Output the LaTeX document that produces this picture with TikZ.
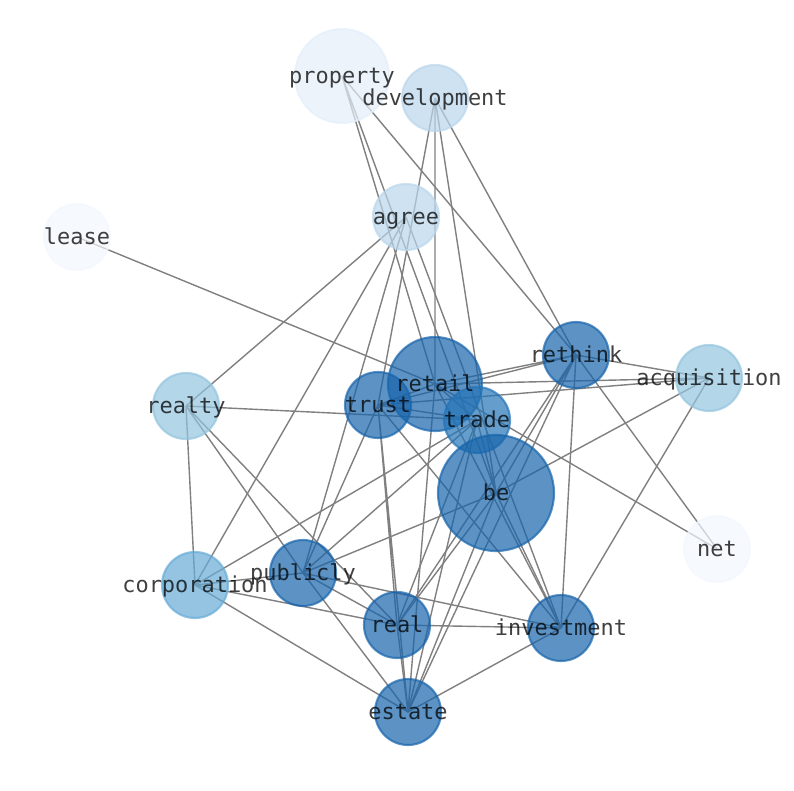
\documentclass[tikz,border=0pt]{standalone}
\usepackage{fontspec}
\setmonofont{DejaVu Sans Mono}

\definecolor{bluedeep}{HTML}{1764AB}
\definecolor{bluemid}{HTML}{2474B7}
\definecolor{bluesky}{HTML}{66ABD6}
\definecolor{bluepale}{HTML}{93C4DE}
\definecolor{bluemist}{HTML}{BAD6EB}
\definecolor{bluefog}{HTML}{E4EEF9}
\definecolor{bluesnow}{HTML}{F2F7FE}

\begin{document}
\begin{tikzpicture}[x=0.025cm,y=-0.025cm,
  link/.style={draw=gray,line width=1pt},
  bubble/.style={circle,inner sep=0pt,minimum size=1.65cm,line width=1.5pt,
    fill opacity=0.7,draw opacity=0.7},
  word/.style={font=\ttfamily\fontsize{15.6}{18}\selectfont,text=black,text opacity=0.75,
    inner sep=0pt,text height=0.74em,text depth=0.22em,yshift=-0.1cm}]
  \useasboundingbox (0,0) rectangle (794,790);

  % word positions
  \coordinate (property) at (342,76);
  \coordinate (development) at (435,98);
  \coordinate (agree) at (406,217);
  \coordinate (lease) at (77,237);
  \coordinate (rethink) at (576,355);
  \coordinate (retail) at (435,384);
  \coordinate (acquisition) at (709,378);
  \coordinate (realty) at (186,406);
  \coordinate (trust) at (378,405);
  \coordinate (trade) at (477,420);
  \coordinate (be) at (496,493);
  \coordinate (net) at (717,549);
  \coordinate (corporation) at (195,585);
  \coordinate (publicly) at (303,573);
  \coordinate (real) at (397,625);
  \coordinate (investment) at (561,628);
  \coordinate (estate) at (408,712);

  % co-occurrence links
  \draw[link] (property) -- (retail) (property) -- (be) (property) -- (rethink);
  \draw[link] (development) -- (trust) (development) -- (retail) (development) -- (be) (development) -- (rethink);
  \draw[link] (agree) -- (realty) (agree) -- (corporation) (agree) -- (publicly) (agree) -- (investment);
  \draw[link] (lease) -- (retail);
  \draw[link] (rethink) -- (retail) (rethink) -- (trust) (rethink) -- (acquisition) (rethink) -- (net)
    (rethink) -- (investment) (rethink) -- (be) (rethink) -- (real) (rethink) -- (estate);
  \draw[link] (acquisition) -- (retail) (acquisition) -- (trust) (acquisition) -- (be) (acquisition) -- (investment);
  \draw[link] (realty) -- (trade) (realty) -- (corporation) (realty) -- (publicly) (realty) -- (real);
  \draw[link] (retail) -- (net) (retail) -- (trust) (retail) -- (trade) (retail) -- (investment) (retail) -- (estate);
  \draw[link] (trust) -- (trade) (trust) -- (investment) (trust) -- (publicly) (trust) -- (real) (trust) -- (estate);
  \draw[link] (trade) -- (be) (trade) -- (corporation) (trade) -- (publicly) (trade) -- (real) (trade) -- (estate);
  \draw[link] (be) -- (publicly) (be) -- (investment) (be) -- (estate) (be) -- (real);
  \draw[link] (corporation) -- (publicly) (corporation) -- (real) (corporation) -- (estate);
  \draw[link] (publicly) -- (investment) (publicly) -- (real) (publicly) -- (estate);
  \draw[link] (real) -- (investment) (real) -- (estate);
  \draw[link] (investment) -- (estate);

  % discs
  \node[bubble,minimum size=2.35cm,fill=bluefog,draw=bluefog] (property-disc) at (property) {};
  \node[bubble,fill=bluemist,draw=bluemist] (development-disc) at (development) {};
  \node[bubble,fill=bluemist,draw=bluemist] (agree-disc) at (agree) {};
  \node[bubble,fill=bluesnow,draw=bluesnow] (lease-disc) at (lease) {};
  \node[bubble,minimum size=2.35cm,fill=bluedeep,draw=bluedeep] (retail-disc) at (retail) {};
  \node[bubble,fill=bluedeep,draw=bluedeep] (rethink-disc) at (rethink) {};
  \node[bubble,fill=bluepale,draw=bluepale] (acquisition-disc) at (acquisition) {};
  \node[bubble,fill=bluepale,draw=bluepale] (realty-disc) at (realty) {};
  \node[bubble,fill=bluedeep,draw=bluedeep] (trust-disc) at (trust) {};
  \node[bubble,fill=bluemid,draw=bluemid] (trade-disc) at (trade) {};
  \node[bubble,minimum size=2.9cm,fill=bluedeep,draw=bluedeep] (be-disc) at (be) {};
  \node[bubble,fill=bluesnow,draw=bluesnow] (net-disc) at (net) {};
  \node[bubble,fill=bluesky,draw=bluesky] (corporation-disc) at (corporation) {};
  \node[bubble,fill=bluedeep,draw=bluedeep] (publicly-disc) at (publicly) {};
  \node[bubble,fill=bluedeep,draw=bluedeep] (real-disc) at (real) {};
  \node[bubble,fill=bluedeep,draw=bluedeep] (investment-disc) at (investment) {};
  \node[bubble,fill=bluedeep,draw=bluedeep] (estate-disc) at (estate) {};

  % words on top
  \node[word] (property-word) at (property) {property};
  \node[word] (development-word) at (development) {development};
  \node[word] (agree-word) at (agree) {agree};
  \node[word] (lease-word) at (lease) {lease};
  \node[word] (rethink-word) at (rethink) {rethink};
  \node[word] (retail-word) at (retail) {retail};
  \node[word] (acquisition-word) at (acquisition) {acquisition};
  \node[word] (realty-word) at (realty) {realty};
  \node[word] (trust-word) at (trust) {trust};
  \node[word] (trade-word) at (trade) {trade};
  \node[word] (be-word) at (be) {be};
  \node[word] (net-word) at (net) {net};
  \node[word] (corporation-word) at (corporation) {corporation};
  \node[word] (publicly-word) at (publicly) {publicly};
  \node[word] (real-word) at (real) {real};
  \node[word] (investment-word) at (investment) {investment};
  \node[word] (estate-word) at (estate) {estate};
\end{tikzpicture}
\end{document}
